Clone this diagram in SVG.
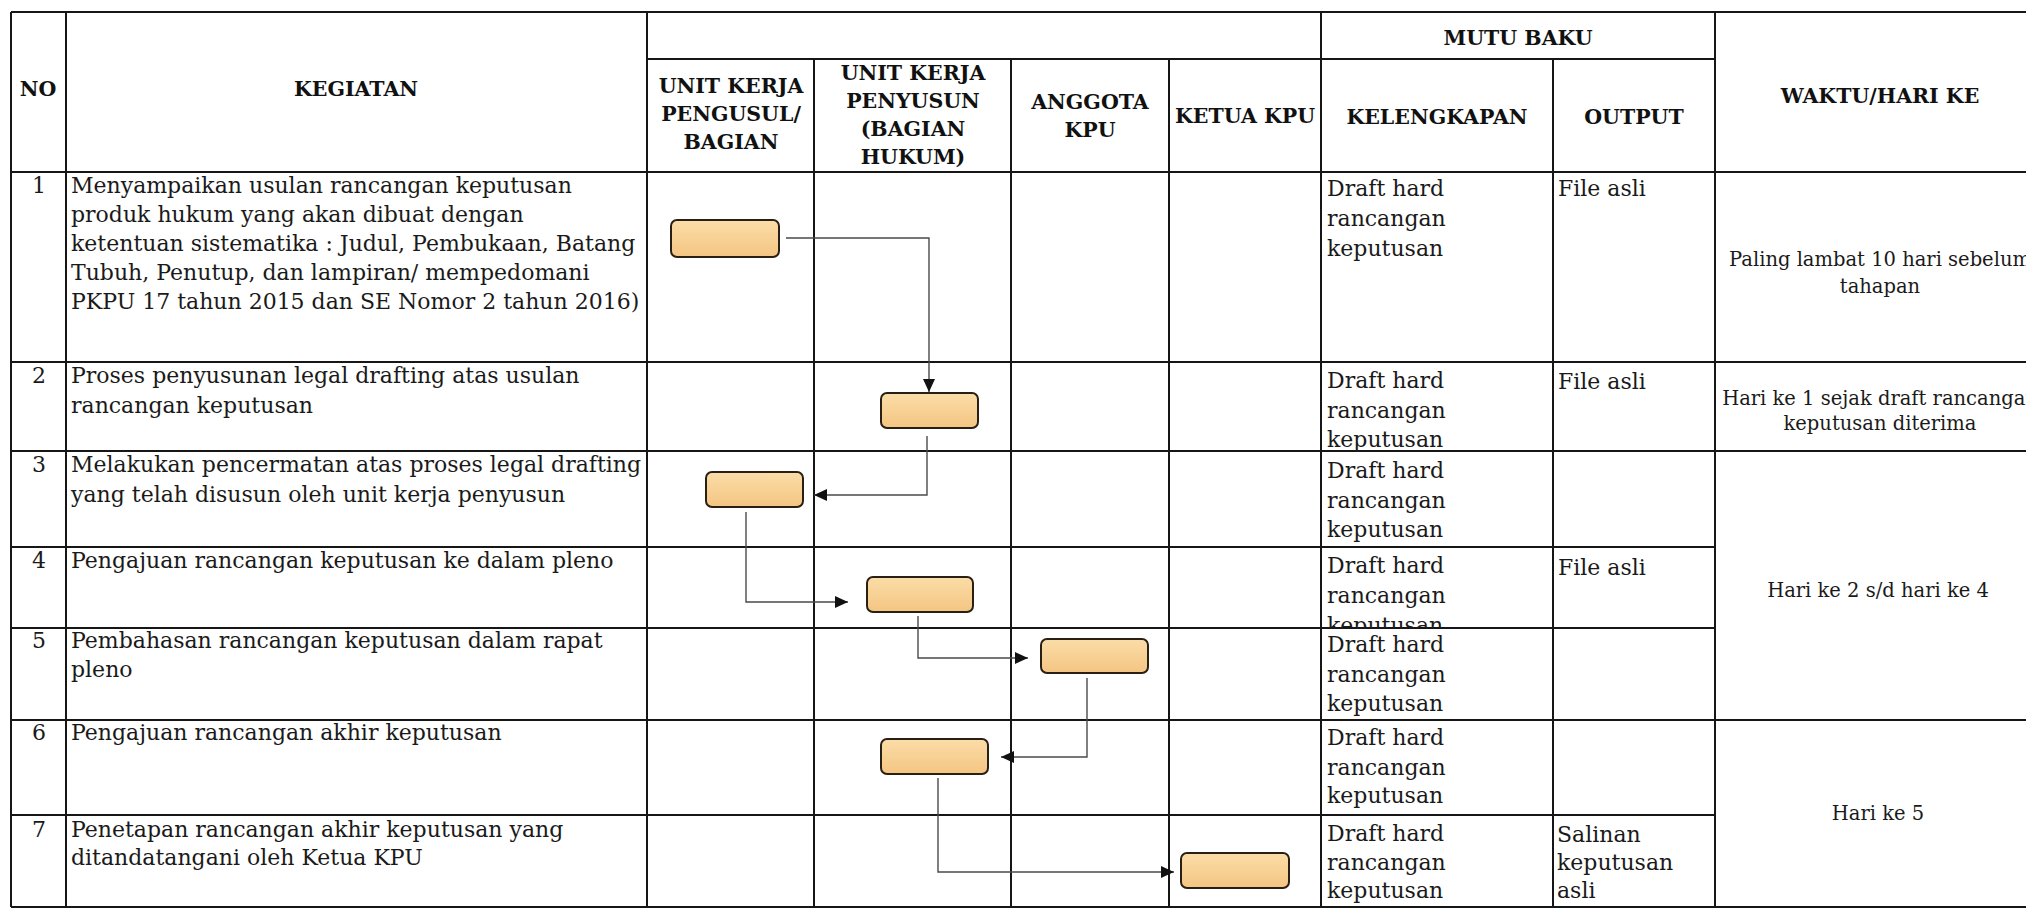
<svg xmlns="http://www.w3.org/2000/svg" width="2026" height="910" viewBox="0 0 2026 910">
<style>
.ln{stroke:#161616;stroke-width:2;fill:none}
.h{font-family:"DejaVu Serif","Liberation Serif",serif;font-weight:bold;font-size:20.5px;fill:#111;text-anchor:middle}
.t{font-family:"DejaVu Serif","Liberation Serif",serif;font-size:22px;fill:#1a1a1a}
.w{font-family:"DejaVu Serif","Liberation Serif",serif;font-size:19.5px;fill:#1a1a1a;text-anchor:middle}
.n{text-anchor:middle}
.box{fill:url(#g);stroke:#2a1f14;stroke-width:2}
.c{stroke:#4a4a4a;stroke-width:1.4;fill:none;marker-end:url(#ar)}
</style>
<defs>
<linearGradient id="g" x1="0" y1="0" x2="0" y2="1">
<stop offset="0" stop-color="#FBDDA8"/>
<stop offset="1" stop-color="#F4C582"/>
</linearGradient>
<marker id="ar" markerWidth="14" markerHeight="12" refX="13" refY="6" orient="auto" markerUnits="userSpaceOnUse">
<path d="M0,0 L13,6 L0,12 Z" fill="#111"/>
</marker>
<clipPath id="clip4"><rect x="1321" y="547" width="232" height="82"/></clipPath>
</defs>
<rect width="2026" height="910" fill="#fff"/>
<g id="table">
<line class="ln" x1="11" y1="12" x2="2046" y2="12"/>
<line class="ln" x1="647" y1="59" x2="1715" y2="59"/>
<line class="ln" x1="11" y1="172" x2="2046" y2="172"/>
<line class="ln" x1="11" y1="362" x2="2046" y2="362"/>
<line class="ln" x1="11" y1="451" x2="2046" y2="451"/>
<line class="ln" x1="11" y1="547" x2="1715" y2="547"/>
<line class="ln" x1="11" y1="628" x2="1715" y2="628"/>
<line class="ln" x1="11" y1="720" x2="2046" y2="720"/>
<line class="ln" x1="11" y1="815" x2="1715" y2="815"/>
<line class="ln" x1="11" y1="907" x2="2046" y2="907"/>
<line class="ln" x1="11" y1="12" x2="11" y2="907"/>
<line class="ln" x1="66" y1="12" x2="66" y2="907"/>
<line class="ln" x1="647" y1="12" x2="647" y2="907"/>
<line class="ln" x1="814" y1="59" x2="814" y2="907"/>
<line class="ln" x1="1011" y1="59" x2="1011" y2="907"/>
<line class="ln" x1="1169" y1="59" x2="1169" y2="907"/>
<line class="ln" x1="1321" y1="12" x2="1321" y2="907"/>
<line class="ln" x1="1553" y1="59" x2="1553" y2="907"/>
<line class="ln" x1="1715" y1="12" x2="1715" y2="907"/>
</g>
<g id="header">
<text class="h" x="38" y="96">NO</text>
<text class="h" x="356" y="96">KEGIATAN</text>
<text class="h" x="731"><tspan x="731" y="93">UNIT KERJA</tspan><tspan x="731" y="121">PENGUSUL/</tspan><tspan x="731" y="149">BAGIAN</tspan></text>
<text class="h" x="913"><tspan x="913" y="80">UNIT KERJA</tspan><tspan x="913" y="108">PENYUSUN</tspan><tspan x="913" y="136">(BAGIAN</tspan><tspan x="913" y="164">HUKUM)</tspan></text>
<text class="h" x="1090"><tspan x="1090" y="109">ANGGOTA</tspan><tspan x="1090" y="137">KPU</tspan></text>
<text class="h" x="1245" y="123">KETUA KPU</text>
<text class="h" x="1518" y="45">MUTU BAKU</text>
<text class="h" x="1437" y="124">KELENGKAPAN</text>
<text class="h" x="1634" y="124">OUTPUT</text>
<text class="h" x="1880" y="103">WAKTU/HARI KE</text>
</g>
<g id="numbers">
<text class="t n" x="39" y="193">1</text>
<text class="t n" x="39" y="383">2</text>
<text class="t n" x="39" y="472">3</text>
<text class="t n" x="39" y="568">4</text>
<text class="t n" x="39" y="648">5</text>
<text class="t n" x="39" y="740">6</text>
<text class="t n" x="39" y="837">7</text>
</g>
<g id="kegiatan">
<text class="t"><tspan x="71" y="193">Menyampaikan usulan rancangan keputusan</tspan><tspan x="71" y="222">produk hukum yang akan dibuat dengan</tspan><tspan x="71" y="251">ketentuan sistematika : Judul, Pembukaan, Batang</tspan><tspan x="71" y="280">Tubuh, Penutup, dan lampiran/ mempedomani</tspan><tspan x="71" y="309">PKPU 17 tahun 2015 dan SE Nomor 2 tahun 2016)</tspan></text>
<text class="t"><tspan x="71" y="383">Proses penyusunan legal drafting atas usulan</tspan><tspan x="71" y="413">rancangan keputusan</tspan></text>
<text class="t"><tspan x="71" y="472">Melakukan pencermatan atas proses legal drafting</tspan><tspan x="71" y="502">yang telah disusun oleh unit kerja penyusun</tspan></text>
<text class="t"><tspan x="71" y="568">Pengajuan rancangan keputusan ke dalam pleno</tspan></text>
<text class="t"><tspan x="71" y="648">Pembahasan rancangan keputusan dalam rapat</tspan><tspan x="71" y="677">pleno</tspan></text>
<text class="t"><tspan x="71" y="740">Pengajuan rancangan akhir keputusan</tspan></text>
<text class="t"><tspan x="71" y="837">Penetapan rancangan akhir keputusan yang</tspan><tspan x="71" y="865">ditandatangani oleh Ketua KPU</tspan></text>
</g>
<g id="kelengkapan">
<text class="t"><tspan x="1327" y="196">Draft hard</tspan><tspan x="1327" y="226">rancangan</tspan><tspan x="1327" y="256">keputusan</tspan></text>
<text class="t"><tspan x="1327" y="388">Draft hard</tspan><tspan x="1327" y="418">rancangan</tspan><tspan x="1327" y="447">keputusan</tspan></text>
<text class="t"><tspan x="1327" y="478">Draft hard</tspan><tspan x="1327" y="508">rancangan</tspan><tspan x="1327" y="537">keputusan</tspan></text>
<text class="t" clip-path="url(#clip4)"><tspan x="1327" y="573">Draft hard</tspan><tspan x="1327" y="603">rancangan</tspan><tspan x="1327" y="633">keputusan</tspan></text>
<text class="t"><tspan x="1327" y="652">Draft hard</tspan><tspan x="1327" y="682">rancangan</tspan><tspan x="1327" y="711">keputusan</tspan></text>
<text class="t"><tspan x="1327" y="745">Draft hard</tspan><tspan x="1327" y="775">rancangan</tspan><tspan x="1327" y="803">keputusan</tspan></text>
<text class="t"><tspan x="1327" y="841">Draft hard</tspan><tspan x="1327" y="870">rancangan</tspan><tspan x="1327" y="898">keputusan</tspan></text>
</g>
<g id="output">
<text class="t" x="1558" y="196">File asli</text>
<text class="t" x="1558" y="389">File asli</text>
<text class="t" x="1558" y="575">File asli</text>
<text class="t"><tspan x="1557" y="842">Salinan</tspan><tspan x="1557" y="870">keputusan</tspan><tspan x="1557" y="898">asli</tspan></text>
</g>
<g id="waktu">
<text class="w"><tspan x="1880" y="266">Paling lambat 10 hari sebelum</tspan><tspan x="1880" y="293">tahapan</tspan></text>
<text class="w"><tspan x="1880" y="405">Hari ke 1 sejak draft rancangan</tspan><tspan x="1880" y="430">keputusan diterima</tspan></text>
<text class="w" x="1878" y="597">Hari ke 2 s/d hari ke 4</text>
<text class="w" x="1878" y="820">Hari ke 5</text>
</g>
<g id="connectors">
<path class="c" d="M786,238 H929 V392"/>
<path class="c" d="M927,436 V495 H814"/>
<path class="c" d="M746,512 V602 H848"/>
<path class="c" d="M918,616 V658 H1028"/>
<path class="c" d="M1087,678 V757 H1001"/>
<path class="c" d="M938,778 V872 H1174"/>
</g>
<g id="node-1"><rect class="box" x="671" y="220" width="108" height="37" rx="6"/></g>
<g id="node-2"><rect class="box" x="881" y="393" width="97" height="35" rx="6"/></g>
<g id="node-3"><rect class="box" x="706" y="472" width="97" height="35" rx="6"/></g>
<g id="node-4"><rect class="box" x="867" y="577" width="106" height="35" rx="6"/></g>
<g id="node-5"><rect class="box" x="1041" y="639" width="107" height="34" rx="6"/></g>
<g id="node-6"><rect class="box" x="881" y="739" width="107" height="35" rx="6"/></g>
<g id="node-7"><rect class="box" x="1181" y="853" width="108" height="35" rx="6"/></g>
</svg>
